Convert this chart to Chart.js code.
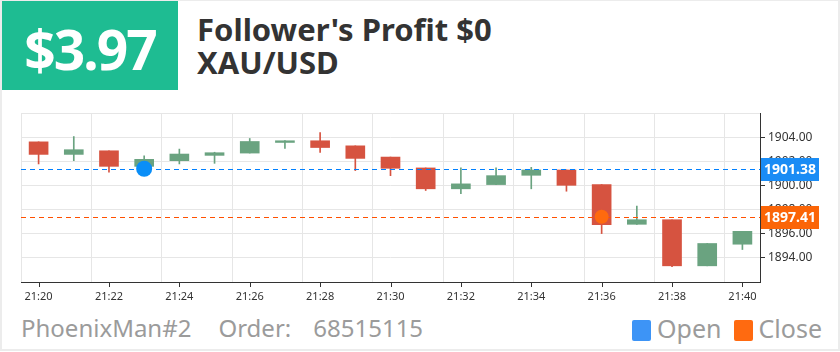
<!DOCTYPE html>
<html lang="en">
<head>
    <meta charset="UTF-8">
    <title>XAU/USD order</title>
    <script src="https://cdn.jsdelivr.net/npm/chart.js"></script>
    <style>
        body { margin: 0; background: #fff; }
        #card { position: relative; width: 836px; height: 348px; border: 2px solid #ececec; border-top-width: 1px; overflow: hidden; font-family: "Noto Sans", sans-serif; }
        #profit { position: absolute; left: 0; top: 0; width: 176px; height: 89px; background: #1ebc92; color: #fff; font-weight: bold; font-size: 55px; letter-spacing: -2px; line-height: 89px; text-align: center; }
        #profit span { position: relative; top: 3px; }
        #title { position: absolute; left: 195px; top: 12px; color: #333; font-weight: bold; font-size: 31px; line-height: 33px; }
        #chartBox { position: absolute; left: -2px; top: 99px; width: 840px; height: 205px; }
        #footer { position: absolute; left: 19px; top: 311px; color: #9b9b9b; font-size: 24px; line-height: 32px; }
        #legend { position: absolute; right: 16px; top: 311px; color: #9b9b9b; font-size: 25px; line-height: 32px; }
        .sw { display: inline-block; width: 19px; height: 21px; border-radius: 2px; vertical-align: -3px; margin-right: 6px; }
    </style>
</head>
<body>
<div id="card">
    <div id="profit"><span>$3.97</span></div>
    <div id="title">Follower's Profit $0<br>XAU/USD</div>
    <div id="chartBox"><canvas id="kline" width="840" height="205"></canvas></div>
    <div id="footer"><span style="margin-right:27px">PhoenixMan#2</span><span style="margin-right:22px">Order:</span><span>68515115</span></div>
    <div id="legend"><span class="sw" style="background:#3d94f6"></span>Open<span style="display:inline-block;width:12px"></span><span class="sw" style="background:#ff6a10"></span>Close</div>
</div>

<script>
    // minutes
    const labels = ['21:20', '21:21', '21:22', '21:23', '21:24', '21:25', '21:26', '21:27', '21:28', '21:29', '21:30',
        '21:31', '21:32', '21:33', '21:34', '21:35', '21:36', '21:37', '21:38', '21:39', '21:40'];
    const openP  = [1903.61, 1902.57, 1902.87, 1901.58, 1902.05, 1902.49, 1902.68, 1903.56, 1903.70, 1903.28, 1902.35,
        1901.45, 1899.72, 1900.07, 1900.84, 1901.28, 1900.07, 1896.78, 1897.16, 1893.34, 1895.13];
    const closeP = [1902.57, 1902.96, 1901.58, 1902.16, 1902.60, 1902.71, 1903.64, 1903.70, 1903.14, 1902.24, 1901.42,
        1899.72, 1900.13, 1900.81, 1901.28, 1900.01, 1896.75, 1897.16, 1893.34, 1895.19, 1896.20];
    const highP  = [1903.61, 1904.05, 1902.87, 1902.46, 1903.01, 1902.75, 1903.89, 1903.72, 1904.38, 1903.28, 1902.35,
        1901.45, 1901.45, 1901.45, 1901.50, 1901.28, 1900.07, 1898.28, 1897.16, 1895.19, 1896.20];
    const lowP   = [1901.78, 1902.05, 1901.09, 1901.40, 1901.78, 1901.83, 1902.68, 1903.06, 1902.73, 1901.23, 1900.81,
        1899.58, 1899.31, 1900.07, 1899.72, 1899.52, 1896.01, 1896.78, 1893.28, 1893.34, 1894.69];
    const yTicks = [1892, 1894, 1896, 1898, 1900, 1902, 1904, 1906];

    // trade
    const openTime = '21:23';
    const openPrice = 1901.38;
    const closeTime = '21:36';
    const closePrice = 1897.41;

    const UP = '#6aa380';
    const DOWN = '#d65340';
    const candleColor = labels.map((l, i) => closeP[i] >= openP[i] ? UP : DOWN);

    // dashed price lines + price tags on the right axis
    const priceLines = {
        id: 'priceLines',
        afterDatasetDraw(chart, args) {
            if (args.index !== 2) return;
            const { ctx, chartArea, scales: { y } } = chart;
            [[openPrice, '#0080ff', '#1a8cf5'], [closePrice, '#ff5000', '#fb6507']].forEach(([p, line, tag]) => {
                const py = Math.round(y.getPixelForValue(p)) + 0.5;
                ctx.save();
                ctx.strokeStyle = line;
                ctx.lineWidth = 1;
                ctx.setLineDash([5, 4]);
                ctx.beginPath();
                ctx.moveTo(chartArea.left, py);
                ctx.lineTo(chartArea.right, py);
                ctx.stroke();
                ctx.setLineDash([]);
                ctx.fillStyle = tag;
                ctx.fillRect(chartArea.right + 1, py - 11.5, 58, 23);
                ctx.fillStyle = '#fff';
                ctx.font = 'bold 14px "Noto Sans"';
                ctx.textAlign = 'center';
                ctx.textBaseline = 'middle';
                ctx.fillText(p.toFixed(2), chartArea.right + 30, py + 0.5);
                ctx.restore();
            });
        },
        afterDraw(chart) {
            // x tick marks on the labelled minutes
            const { ctx, chartArea, scales: { x } } = chart;
            ctx.save();
            ctx.strokeStyle = '#333';
            ctx.lineWidth = 1;
            labels.forEach((l, i) => {
                if (i % 2) return;
                const px = Math.round(x.getPixelForValue(i)) + 0.5;
                ctx.beginPath();
                ctx.moveTo(px, chartArea.bottom);
                ctx.lineTo(px, chartArea.bottom + 5);
                ctx.stroke();
            });
            ctx.restore();
        }
    };

    new Chart(document.getElementById('kline'), {
        type: 'bar',
        data: {
            labels: labels,
            datasets: [
                {
                    type: 'line',
                    data: [{ x: openTime, y: openPrice }],
                    showLine: false,
                    pointRadius: 8,
                    pointBackgroundColor: '#0a8ef7',
                    pointBorderWidth: 0
                },
                {
                    type: 'line',
                    data: [{ x: closeTime, y: closePrice }],
                    showLine: false,
                    pointRadius: 7,
                    pointBackgroundColor: '#ff6a0e',
                    pointBorderWidth: 0
                },
                {
                    data: labels.map((l, i) => [openP[i], closeP[i]]),
                    backgroundColor: candleColor,
                    barThickness: 19,
                    grouped: false
                },
                {
                    data: labels.map((l, i) => [lowP[i], highP[i]]),
                    backgroundColor: candleColor,
                    barThickness: 1,
                    grouped: false
                }
            ]
        },
        options: {
            responsive: false,
            animation: false,
            layout: { padding: { left: 21, top: 13, right: 0, bottom: 0 } },
            plugins: { legend: { display: false }, tooltip: { enabled: false } },
            scales: {
                x: {
                    offset: true,
                    grid: {
                        offset: true,
                        drawTicks: false,
                        color: c => c.index % 2 === 0 ? '#e6e6e6' : 'rgba(0,0,0,0)'
                    },
                    border: { color: '#333' },
                    ticks: {
                        autoSkip: false,
                        maxRotation: 0,
                        padding: 8,
                        color: '#333',
                        font: { family: 'Noto Sans', size: 11 },
                        callback: (v, i) => i % 2 === 0 ? labels[i] : ''
                    },
                    afterFit: s => { s.height = 23; }
                },
                y: {
                    position: 'right',
                    min: 1892,
                    max: 1906,
                    afterBuildTicks: s => { s.ticks = yTicks.map(v => ({ value: v })); },
                    grid: {
                        color: '#e6e6e6',
                        tickLength: 5,
                        tickColor: c => (c.tick && (c.tick.value === 1892 || c.tick.value === 1906)) ? 'rgba(0,0,0,0)' : '#333'
                    },
                    border: { color: '#333' },
                    ticks: {
                        padding: 3,
                        color: '#333',
                        font: { family: 'Noto Sans', size: 12 },
                        callback: v => (v === 1892 || v === 1906) ? '' : v.toFixed(2)
                    },
                    afterFit: s => { s.width = 80; }
                }
            }
        },
        plugins: [priceLines]
    });
</script>
</body>
</html>
